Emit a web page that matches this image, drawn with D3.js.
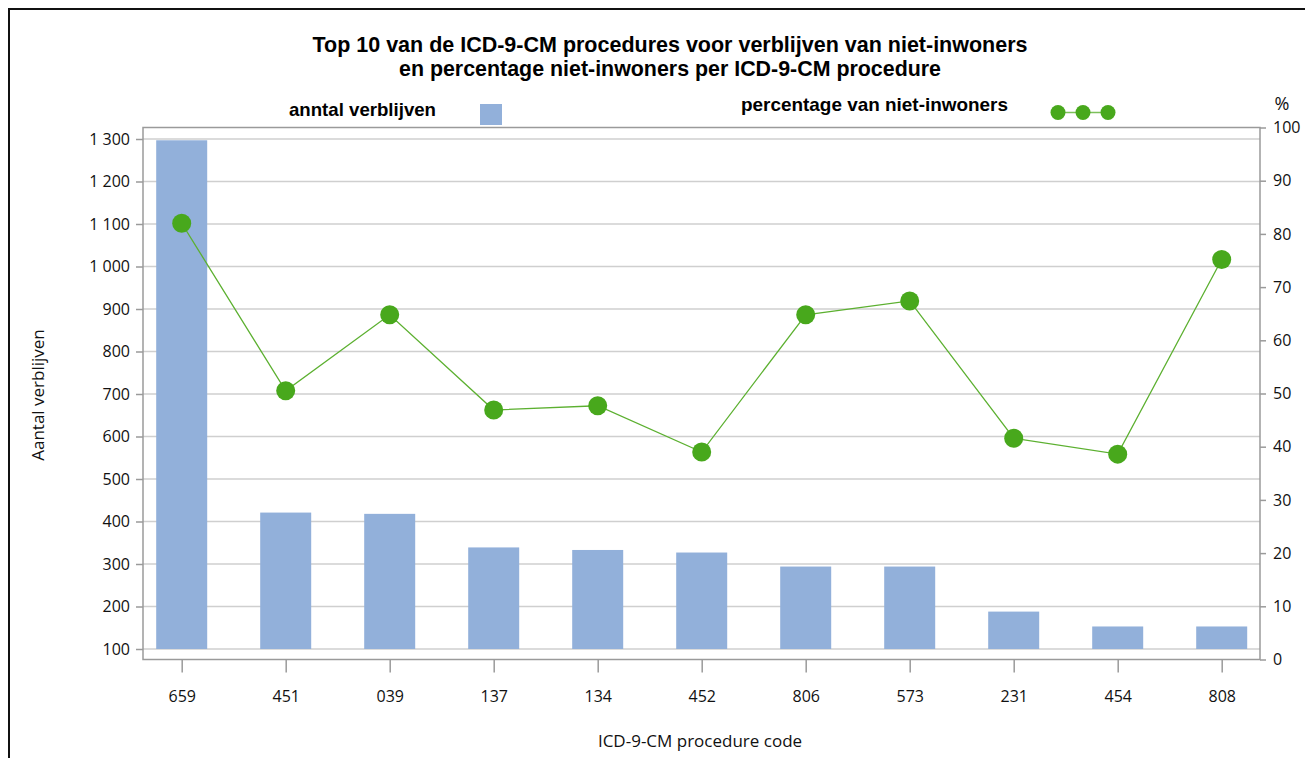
<!DOCTYPE html>
<html>
<head>
<meta charset="utf-8">
<script src="https://cdn.jsdelivr.net/npm/d3@7"></script>
<style>
  html, body { margin: 0; padding: 0; background: #fff; }
  svg { display: block; }
  .tick text { font-family: "Open Sans", "Noto Sans", sans-serif; font-size: 16px; fill: #111; }
</style>
</head>
<body>
<svg id="chart" width="1305" height="758"></svg>
<script>
// Procedure codes (x axis), number of stays (bars) and share of non-residents in % (line)
const codes = ["659", "451", "039", "137", "134", "452", "806", "573", "231", "454", "808"];
const stays = [1297, 421, 418, 339, 333, 327, 294, 294, 188, 153, 153];
const pctNonResidents = [82.0, 50.5, 64.8, 46.9, 47.7, 39.0, 64.8, 67.4, 41.6, 38.6, 75.2];
const leftTicks = [100, 200, 300, 400, 500, 600, 700, 800, 900, 1000, 1100, 1200, 1300];
const rightTicks = [0, 10, 20, 30, 40, 50, 60, 70, 80, 90, 100];

const titleLines = [
  "Top 10 van de ICD-9-CM procedures voor verblijven van niet-inwoners",
  "en percentage niet-inwoners per ICD-9-CM procedure"
];

const svg = d3.select("#chart");
const frame = { left: 143, right: 1260, top: 127.5, bottom: 659.5 };
const barColor = "#92b0da";
const dotColor = "#48a81c";
const lineColor = "#5cb030";
const gridColor = "#cfcfcf";
const axisColor = "#9a9a9a";

const nl = d3.formatLocale({ decimal: ",", thousands: " ", grouping: [3], currency: ["", ""] });
const fmt = nl.format(",d");

// Outer border of the figure
svg.append("rect")
  .attr("x", 9).attr("y", 9).attr("width", 1310).attr("height", 760)
  .attr("fill", "none").attr("stroke", "#111").attr("stroke-width", 2);

// Scales
const x = d3.scalePoint().domain(codes).range([181.7, 1221.7]);
const yL = d3.scaleLinear().domain([100, 1300]).range([649, 139]);
const yR = d3.scaleLinear().domain([0, 100]).range([frame.bottom, frame.top]);
const barW = 51;

// Horizontal gridlines from the left axis
svg.append("g").selectAll("line").data(leftTicks).join("line")
  .attr("x1", frame.left).attr("x2", frame.right)
  .attr("y1", d => yL(d)).attr("y2", d => yL(d))
  .attr("stroke", gridColor).attr("stroke-width", 1.5);

// Bars
svg.append("g").selectAll("rect").data(codes).join("rect")
  .attr("x", d => x(d) - barW / 2)
  .attr("width", barW)
  .attr("y", (d, i) => yL(stays[i]))
  .attr("height", (d, i) => yL(100) - yL(stays[i]))
  .attr("fill", barColor);

// Plot frame
svg.append("rect")
  .attr("x", frame.left).attr("y", frame.top)
  .attr("width", frame.right - frame.left).attr("height", frame.bottom - frame.top)
  .attr("fill", "none").attr("stroke", axisColor).attr("stroke-width", 1.5);

// Left axis
const gL = svg.append("g").attr("transform", `translate(${frame.left},0)`)
  .call(d3.axisLeft(yL).tickValues(leftTicks).tickFormat(fmt).tickSize(7).tickPadding(6));
gL.select(".domain").remove();
gL.selectAll(".tick line").attr("stroke", axisColor).attr("stroke-width", 1.5);

// Right axis
const gR = svg.append("g").attr("transform", `translate(${frame.right},0)`)
  .call(d3.axisRight(yR).tickValues(rightTicks).tickSize(6).tickPadding(7));
gR.select(".domain").remove();
gR.selectAll(".tick line").attr("stroke", axisColor).attr("stroke-width", 1.5);

// Bottom axis
const gB = svg.append("g").attr("transform", `translate(0,${frame.bottom})`)
  .call(d3.axisBottom(x).tickSize(13).tickPadding(18));
gB.select(".domain").remove();
gB.selectAll(".tick line").attr("stroke", axisColor).attr("stroke-width", 1.5);

// Percentage line and markers
const line = d3.line().x(d => x(d.code)).y(d => yR(d.pct));
const pts = codes.map((c, i) => ({ code: c, pct: pctNonResidents[i] }));
svg.append("path").datum(pts)
  .attr("d", line).attr("fill", "none")
  .attr("stroke", lineColor).attr("stroke-width", 1.3);
svg.append("g").selectAll("circle").data(pts).join("circle")
  .attr("cx", d => x(d.code)).attr("cy", d => yR(d.pct))
  .attr("r", 9.5).attr("fill", dotColor);

// Title
svg.append("g").selectAll("text").data(titleLines).join("text")
  .attr("x", 670).attr("y", (d, i) => 52 + i * 24)
  .attr("text-anchor", "middle")
  .attr("font-family", "'Liberation Sans', Arial, sans-serif")
  .attr("font-weight", "bold").attr("font-size", 21.5)
  .attr("textLength", (d, i) => i === 0 ? 715 : 542)
  .attr("lengthAdjust", "spacingAndGlyphs")
  .text(d => d);

// Legend
const legendFont = "'Liberation Sans', Arial, sans-serif";
svg.append("text").attr("x", 289).attr("y", 116)
  .attr("font-family", legendFont).attr("font-weight", "bold").attr("font-size", 18.5)
  .attr("textLength", 147).attr("lengthAdjust", "spacingAndGlyphs")
  .text("anntal verblijven");
svg.append("rect").attr("x", 480).attr("y", 104).attr("width", 22).attr("height", 21)
  .attr("fill", barColor);
svg.append("text").attr("x", 741).attr("y", 111)
  .attr("font-family", legendFont).attr("font-weight", "bold").attr("font-size", 18.5)
  .attr("textLength", 267).attr("lengthAdjust", "spacingAndGlyphs")
  .text("percentage van niet-inwoners");
const legendDots = [1058, 1083, 1108];
svg.append("line").attr("x1", legendDots[0]).attr("x2", legendDots[2])
  .attr("y1", 112.5).attr("y2", 112.5).attr("stroke", "#7cc05a").attr("stroke-width", 1.5);
svg.append("g").selectAll("circle").data(legendDots).join("circle")
  .attr("cx", d => d).attr("cy", 112.5).attr("r", 7.5).attr("fill", dotColor);

// Axis titles
const axisTitleFont = "'Open Sans', 'Noto Sans', sans-serif";
svg.append("text")
  .attr("transform", "translate(44,395) rotate(-90)")
  .attr("text-anchor", "middle")
  .attr("font-family", axisTitleFont).attr("font-size", 17).attr("fill", "#111")
  .text("Aantal verblijven");
svg.append("text").attr("x", 700).attr("y", 747)
  .attr("text-anchor", "middle")
  .attr("font-family", axisTitleFont).attr("font-size", 17).attr("fill", "#111")
  .text("ICD-9-CM procedure code");
svg.append("text").attr("x", 1282).attr("y", 110)
  .attr("text-anchor", "middle")
  .attr("font-family", axisTitleFont).attr("font-size", 18).attr("fill", "#111")
  .text("%");
</script>
</body>
</html>
